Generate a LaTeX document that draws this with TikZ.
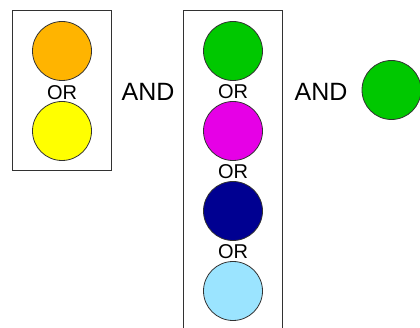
\documentclass[tikz,border=0pt]{standalone}
\usepackage{fontspec}
\setmainfont{Liberation Sans}
\definecolor{corange}{RGB}{255,180,0}
\definecolor{cyellow}{RGB}{255,255,0}
\definecolor{cgreen}{RGB}{0,200,0}
\definecolor{cmagenta}{RGB}{230,0,230}
\definecolor{cnavy}{RGB}{0,0,145}
\definecolor{clblue}{RGB}{155,228,255}
\definecolor{cedge}{RGB}{50,50,50}
\begin{document}
\begin{tikzpicture}[x=1pt,y=-1pt,
  dot/.style={circle,draw=cedge,line width=0.8pt,minimum size=59pt,inner sep=0pt},
  grp/.style={draw=cedge,line width=1pt},
  ortxt/.style={font=\fontsize{20}{20}\selectfont,inner sep=0pt},
  andtxt/.style={font=\fontsize{25}{25}\selectfont,inner sep=0pt}]
\useasboundingbox (0,0) rectangle (420,328);
\draw[grp] (12,10.5) rectangle (111.5,171);
\draw[grp] (183,10.5) rectangle (282.5,340);
\node[dot,fill=corange] (o1) at (62,51) {};
\node[ortxt] (or1) at (62,93) {OR};
\node[dot,fill=cyellow] (y1) at (62,131) {};
\node[andtxt] (and1) at (148,92) {AND};
\node[dot,fill=cgreen] (g1) at (233,51) {};
\node[ortxt] (or2) at (233,92) {OR};
\node[dot,fill=cmagenta] (m1) at (233,131) {};
\node[ortxt] (or3) at (233,172) {OR};
\node[dot,fill=cnavy] (n1) at (233,211) {};
\node[ortxt] (or4) at (233,252) {OR};
\node[dot,fill=clblue] (b1) at (233,291) {};
\node[andtxt] (and2) at (321,92) {AND};
\node[dot,fill=cgreen] (g2) at (391.5,90) {};
\end{tikzpicture}
\end{document}
